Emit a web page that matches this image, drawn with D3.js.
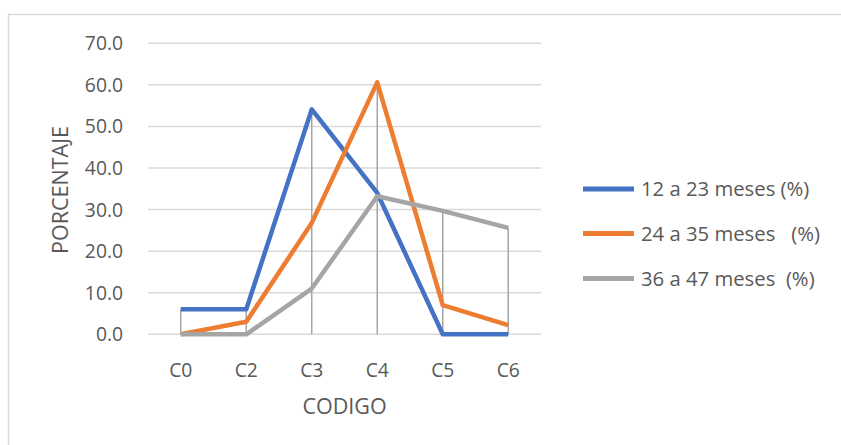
<!DOCTYPE html>
<html>
<head>
<meta charset="utf-8">
<script src="https://cdn.jsdelivr.net/npm/d3@7"></script>
<style>
html,body{margin:0;padding:0;background:#fff;}
svg{display:block;}
text{font-family:"Open Sans",sans-serif;fill:#595959;}
</style>
</head>
<body>
<svg id="chart" width="841" height="445"></svg>
<script>
const categories = ["C0","C2","C3","C4","C5","C6"];
const seriesNames = ["12 a 23 meses (%)","24 a 35 meses   (%)","36 a 47 meses  (%)"];
const s1 = [6.0, 6.0, 54.1, 34.0, 0.0, 0.0];
const s2 = [0.0, 3.0, 26.8, 60.6, 7.0, 2.2];
const s3 = [0.0, 0.0, 11.0, 33.2, 29.7, 25.6];
const yTicks = [0,10,20,30,40,50,60,70];
const colors = ["#4472C4","#ED7D31","#A5A5A5"];
const seriesData = [s1,s2,s3];

const svg = d3.select("#chart");
// outer border
svg.append("rect").attr("x",8.5).attr("y",14.5).attr("width",900).attr("height",500)
  .attr("fill","none").attr("stroke","#D9D9D9").attr("stroke-width",1.5);

const x = d3.scalePoint().domain(categories).range([148,541]).padding(0.5);
const y = d3.scaleLinear().domain([0,70]).range([334.3,43.3]);

// gridlines
svg.append("g").selectAll("line").data(yTicks).join("line")
  .attr("x1",148).attr("x2",541)
  .attr("y1",d=>y(d)).attr("y2",d=>y(d))
  .attr("stroke","#D9D9D9").attr("stroke-width",1.5);

// y tick labels
svg.append("g").selectAll("text").data(yTicks).join("text")
  .attr("x",123).attr("y",d=>y(d)).attr("dy","0.36em")
  .attr("text-anchor","end").attr("font-size",19.3)
  .text(d=>d3.format(".1f")(d));

// x tick labels
svg.append("g").selectAll("text").data(categories).join("text")
  .attr("x",d=>x(d)).attr("y",376.5)
  .attr("text-anchor","middle").attr("font-size",19.3)
  .text(d=>d);

// axis titles
svg.append("text").attr("x",344.5).attr("y",413.5).attr("text-anchor","middle")
  .attr("font-size",21.5).text("CODIGO");
svg.append("text").attr("transform","translate(67.5,190) rotate(-90)")
  .attr("text-anchor","middle").attr("font-size",21.5).text("PORCENTAJE");

// drop lines
const maxVals = categories.map((c,i)=>d3.max(seriesData,s=>s[i]));
svg.append("g").selectAll("line").data(categories).join("line")
  .attr("x1",d=>x(d)).attr("x2",d=>x(d))
  .attr("y1",(d,i)=>y(maxVals[i])).attr("y2",y(0))
  .attr("stroke","#A5A5A5").attr("stroke-width",1.5);

// series lines
const line = d3.line().x((d,i)=>x(categories[i])).y(d=>y(d));
seriesData.forEach((s,k)=>{
  svg.append("path").datum(s).attr("d",line)
    .attr("fill","none").attr("stroke",colors[k]).attr("stroke-width",4.5)
    .attr("stroke-linejoin","round").attr("stroke-linecap","butt");
});

// legend
const legY = [189,233.5,278.5];
const leg = svg.append("g").selectAll("g").data(seriesNames).join("g")
  .attr("transform",(d,i)=>`translate(0,${legY[i]})`);
leg.append("line").attr("x1",583).attr("x2",634).attr("y1",0).attr("y2",0)
  .attr("stroke",(d,i)=>colors[i]).attr("stroke-width",5);
leg.append("text").attr("x",641).attr("y",0).attr("dy","0.36em")
  .attr("font-size",20.3).style("white-space","pre").attr("xml:space","preserve")
  .text(d=>d);
</script>
</body>
</html>
